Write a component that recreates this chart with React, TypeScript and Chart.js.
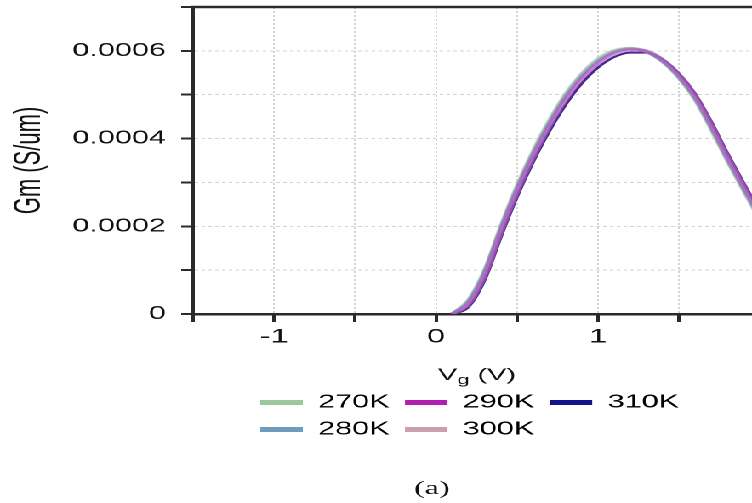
import React, { useEffect, useRef } from 'react';
import { Chart, registerables } from 'chart.js';

Chart.register(...registerables);

// ---- data (Gm in S/um vs Vg in V) ----
const VG = [0.1, 0.2, 0.3, 0.4, 0.5, 0.6, 0.7, 0.8, 0.9, 1.0, 1.1, 1.2, 1.3, 1.4, 1.5, 1.6, 1.7, 1.8, 1.9, 2.0];
const GM_270K = [0, 0.000032, 0.000100, 0.000200, 0.000292, 0.000372, 0.000442, 0.000502, 0.000548, 0.000582, 0.000601, 0.000606, 0.000598, 0.000575, 0.000538, 0.000488, 0.000420, 0.000348, 0.000280, 0.000215];
const GM_280K = [0, 0.000029, 0.000096, 0.000195, 0.000287, 0.000367, 0.000437, 0.000497, 0.000544, 0.000578, 0.000598, 0.000605, 0.000598, 0.000576, 0.000540, 0.000491, 0.000424, 0.000352, 0.000284, 0.000219];
const GM_290K = [0, 0.000024, 0.000089, 0.000188, 0.000280, 0.000360, 0.000430, 0.000490, 0.000537, 0.000572, 0.000594, 0.000602, 0.000598, 0.000578, 0.000544, 0.000496, 0.000430, 0.000358, 0.000290, 0.000225];
const GM_300K = [0, 0.000022, 0.000086, 0.000185, 0.000277, 0.000357, 0.000428, 0.000489, 0.000537, 0.000573, 0.000596, 0.000604, 0.000600, 0.000580, 0.000546, 0.000498, 0.000432, 0.000360, 0.000292, 0.000227];
const GM_310K = [0, 0.000016, 0.000077, 0.000175, 0.000267, 0.000347, 0.000417, 0.000477, 0.000526, 0.000562, 0.000586, 0.000596, 0.000596, 0.000580, 0.000548, 0.000502, 0.000438, 0.000366, 0.000298, 0.000233];

const SERIES_LABELS = ['270K', '280K', '290K', '300K', '310K'];
const SERIES_DATA = [GM_270K, GM_280K, GM_290K, GM_300K, GM_310K];
const SERIES_COLORS = ['#9dc89b', '#6f9bbd', '#b020b0', '#c9a0ac', '#12128c'];
const LINE_COLORS = ['rgba(150,195,150,0.6)', 'rgba(110,150,185,0.6)', 'rgba(170,50,190,0.45)', 'rgba(190,140,185,0.5)', 'rgba(50,20,130,0.9)'];
const LINE_WIDTHS = [3, 3, 3.5, 3, 2];
const DRAW_ORDER = [3, 2, 0, 1, 4]; // lower = drawn on top
const LEGEND_ORDER = [0, 2, 4, 1, 3];

const X_LABELED = [-1, 0, 1];
const Y_LABELED = [0, 2, 4, 6]; // in units of 0.0001

const X_TITLE_MAIN = 'V';
const X_TITLE_SUB = 'g';
const X_TITLE_TAIL = ' (V)';
const Y_TITLE = 'Gm (S/um)';
const CAPTION = '(a)';

// ---- layout ----
const BASE_W = 442;
const H = 503;
const STRETCH = 752 / BASE_W;
const FONT = "'Liberation Sans', Arial, sans-serif";
const INK = '#111';

const decorPlugin = {
  id: 'decor',
  beforeDraw(chart: any) {
    const lg = chart.legend;
    const ca = chart.chartArea;
    if (lg && ca) {
      lg.left = ca.left + 30.5;
      lg.right = lg.left + 280;
    }
  },
  afterDraw(chart: any) {
    const { ctx, chartArea: ca } = chart;
    ctx.save();
    // top frame line
    ctx.strokeStyle = '#2a2a2a';
    ctx.lineWidth = 2.5;
    ctx.beginPath();
    ctx.moveTo(ca.left - 1, ca.top);
    ctx.lineTo(ca.right, ca.top);
    ctx.stroke();

    // x axis title with subscript
    ctx.fillStyle = INK;
    ctx.textBaseline = 'alphabetic';
    ctx.textAlign = 'left';
    const big = `17px ${FONT}`;
    const small = `13px ${FONT}`;
    ctx.font = big;
    const w1 = ctx.measureText(X_TITLE_MAIN).width;
    const w3 = ctx.measureText(X_TITLE_TAIL).width;
    ctx.font = small;
    const w2 = ctx.measureText(X_TITLE_SUB).width;
    const cx = (ca.left + ca.right) / 2 + 2.6;
    const start = cx - (w1 + w2 + w3) / 2;
    const base = ca.bottom + 66;
    ctx.font = big;
    ctx.fillText(X_TITLE_MAIN, start, base);
    ctx.font = small;
    ctx.fillText(X_TITLE_SUB, start + w1, base + 4);
    ctx.font = big;
    ctx.fillText(X_TITLE_TAIL, start + w1 + w2, base);

    // caption
    ctx.font = `19px 'Liberation Serif', 'Times New Roman', serif`;
    ctx.textAlign = 'center';
    ctx.fillStyle = '#111';
    ctx.fillText(CAPTION, ca.left + 140.4, 494);
    ctx.restore();
  },
};

export default function App() {
  const ref = useRef<HTMLCanvasElement | null>(null);

  useEffect(() => {
    if (!ref.current) return;
    const datasets = SERIES_LABELS.map((label, i) => ({
      label,
      data: VG.map((v, j) => ({ x: v, y: SERIES_DATA[i][j] })),
      borderColor: LINE_COLORS[i],
      backgroundColor: SERIES_COLORS[i],
      borderWidth: LINE_WIDTHS[i],
      pointRadius: 0,
      order: DRAW_ORDER[i],
      cubicInterpolationMode: 'monotone' as const,
      fill: false,
    }));

    const chart = new Chart(ref.current, {
      type: 'line',
      data: { datasets },
      plugins: [decorPlugin],
      options: {
        animation: false,
        responsive: false,
        devicePixelRatio: 2,
        events: [],
        layout: {
          autoPadding: false,
          padding: { top: 7, left: 0, right: 0, bottom: 54.5 },
        },
        plugins: {
          tooltip: { enabled: false },
          title: { display: false },
          legend: {
            display: true,
            position: 'bottom',
            align: 'start',
            fullSize: false,
            labels: {
              boxWidth: 25,
              boxHeight: 5,
              padding: 9,
              color: INK,
              font: { family: FONT, size: 18 },
              sort: (a: any, b: any) => LEGEND_ORDER.indexOf(a.datasetIndex) - LEGEND_ORDER.indexOf(b.datasetIndex),
              generateLabels: (c: any) =>
                c.data.datasets.map((ds: any, i: number) => ({
                  text: ds.label,
                  fillStyle: SERIES_COLORS[i],
                  strokeStyle: SERIES_COLORS[i],
                  lineWidth: 0,
                  hidden: false,
                  datasetIndex: i,
                })),
            },
          },
        },
        scales: {
          x: {
            type: 'linear',
            min: -1.5,
            max: 1.95,
            afterFit: (s: any) => {
              s.height = 70.5;
              s.paddingLeft = 0;
              s.paddingRight = 0;
            },
            ticks: {
              stepSize: 0.5,
              includeBounds: false,
              autoSkip: false,
              maxRotation: 0,
              padding: 4,
              color: INK,
              font: { family: FONT, size: 19 },
              callback: (v: any) => {
                const n = Number(v);
                return X_LABELED.some((t) => Math.abs(t - n) < 1e-9) ? String(Math.round(n)) : '';
              },
            },
            grid: {
              color: '#d2d2d2',
              lineWidth: 1,
              tickLength: 8,
              tickColor: '#2a2a2a',
              tickWidth: 2,
            },
            border: { display: true, color: '#2a2a2a', width: 2.5, dash: [2, 2] },
            title: { display: false },
          },
          y: {
            type: 'linear',
            min: 0,
            max: 0.0007,
            afterFit: (s: any) => {
              s.width = 113.5;
              s.paddingTop = 0;
              s.paddingBottom = 0;
            },
            ticks: {
              stepSize: 0.0001,
              autoSkip: false,
              padding: 9,
              color: INK,
              font: { family: FONT, size: 18 },
              callback: (v: any) => {
                const n = Math.round(Number(v) * 10000);
                if (!Y_LABELED.includes(n)) return '';
                return n === 0 ? '0' : (n / 10000).toFixed(4);
              },
            },
            grid: {
              color: '#d2d2d2',
              lineWidth: 1,
              tickLength: 7,
              tickColor: '#2a2a2a',
              tickWidth: 2,
            },
            border: { display: true, color: '#2a2a2a', width: 2, dash: [2, 2] },
            title: {
              display: true,
              text: Y_TITLE,
              color: INK,
              font: { family: FONT, size: 22 },
              padding: { top: 4, bottom: 0 },
            },
          },
        },
      },
    } as any);
    return () => chart.destroy();
  }, []);

  return (
    <div
      style={{
        position: 'fixed',
        left: 0,
        top: 0,
        width: BASE_W,
        height: H,
        background: '#fff',
        transform: `scaleX(${STRETCH})`,
        transformOrigin: '0 0',
      }}
    >
      <canvas
        ref={ref}
        width={BASE_W}
        height={H}
        style={{ width: `${BASE_W}px`, height: `${H}px`, display: 'block' }}
      />
    </div>
  );
}
